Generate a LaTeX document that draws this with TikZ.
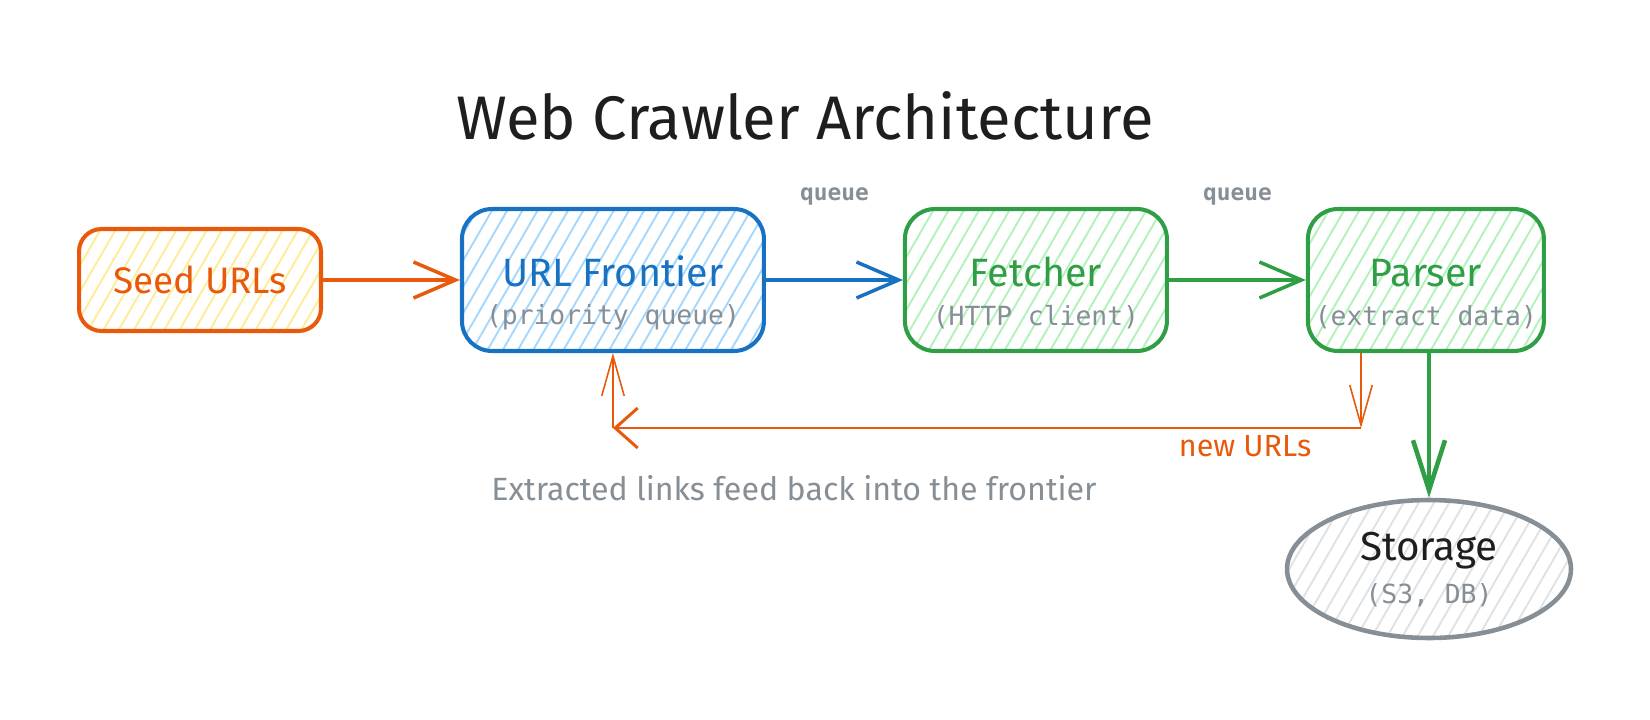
\documentclass[tikz,border=0pt]{standalone}
\usepackage{fontspec}
\setmainfont{Fira Sans}
\newfontfamily\codefont{DejaVu Sans Mono}
\usepackage{xcolor}
\usetikzlibrary{arrows.meta, positioning, patterns.meta, shapes.geometric}

\definecolor{crawlorange}{HTML}{E8590C}
\definecolor{crawlyellow}{HTML}{FFEC99}
\definecolor{crawlblue}{HTML}{1971C2}
\definecolor{crawlsky}{HTML}{A5D8FF}
\definecolor{crawlgreen}{HTML}{2F9E44}
\definecolor{crawlmint}{HTML}{B2F2BB}
\definecolor{crawlgray}{HTML}{868E96}
\definecolor{crawlmist}{HTML}{DEE2E6}
\definecolor{crawlink}{HTML}{1E1E1E}

\begin{document}
\begin{tikzpicture}[
    x=0.02cm, y=-0.02cm,
    node distance=2.74cm,
    hatch/.style={pattern={Lines[angle=60, distance=7.5pt, line width=1.1pt]}, pattern color=#1},
    seedbox/.style={rectangle, rounded corners=0.45cm, draw=crawlorange, hatch=crawlyellow, line width=2.3pt, minimum width=4.84cm, minimum height=2.04cm, text=crawlorange, font=\fontsize{21}{25}\selectfont},
    stage/.style={rectangle, rounded corners=0.6cm, line width=2.3pt, minimum height=2.84cm, font=\fontsize{22.5}{26}\selectfont, text height=0.6cm, text depth=0.36cm},
    sub/.style={text=crawlgray, font=\codefont\fontsize{15}{17}\selectfont, yshift=-0.74cm},
    tag/.style={text=crawlgray, font=\codefont\bfseries\fontsize{13}{15}\selectfont, yshift=1.68cm},
    flow/.style={-{Straight Barb[length=0.84cm, width=0.72cm]}, line width=2pt},
    back/.style={-{Straight Barb[length=0.45cm, width=0.8cm]}, line width=1.7pt, crawlorange},
    backthin/.style={-{Straight Barb[length=0.8cm, width=0.45cm]}, line width=0.9pt, crawlorange}
]
\useasboundingbox (0,0) rectangle (1650,720);

% Nodes
\node[text=crawlink, font=\fontsize{35}{42}\selectfont] (heading) at (805,116) {Web Crawler Architecture};
\node[seedbox] (seed) at (200,280) {Seed URLs};
\node[stage, right=of seed, draw=crawlblue, hatch=crawlsky, text=crawlblue, minimum width=6.04cm,
    label={[sub]center:(priority queue)}] (frontier) {URL Frontier};
\node[stage, right=of frontier, draw=crawlgreen, hatch=crawlmint, text=crawlgreen, minimum width=5.24cm,
    label={[sub]center:(HTTP client)}] (fetcher) {Fetcher};
\node[stage, right=of fetcher, draw=crawlgreen, hatch=crawlmint, text=crawlgreen, minimum width=4.72cm,
    label={[sub]center:(extract data)}] (parser) {Parser};
\node[ellipse, draw=crawlgray, hatch=crawlmist, line width=2.6pt, minimum width=5.68cm, minimum height=2.76cm,
    text=crawlink, font=\fontsize{23}{27}\selectfont, text height=0.6cm, text depth=0.96cm,
    label={[sub, yshift=0.22cm]center:(S3, DB)}] (storage) at (1429,569) {Storage};
\node[text=crawlgray, font=\fontsize{18.3}{22}\selectfont] (note) at (794,488) {Extracted links feed back into the frontier};
\coordinate (turn) at (1361,428);

% Arrows
\draw[flow, crawlorange] (seed) -- (frontier);
\draw[flow, crawlblue] (frontier) -- node[tag] {queue} (fetcher);
\draw[flow, crawlgreen] (fetcher) -- node[tag] {queue} (parser);
\draw[flow, crawlgreen, line width=2.6pt, -{Straight Barb[length=1cm, width=0.64cm]}] (parser.south -| storage.north) -- (storage.north);

% Feedback loop
\draw[backthin] (parser.south -| turn) -- (turn);
\draw[back] (turn) -- node[pos=0.155, below, text=crawlorange, font=\fontsize{17.4}{20}\selectfont] {new URLs} (turn -| frontier.south);
\draw[backthin] (turn -| frontier.south) -- (frontier.south);

\end{tikzpicture}
\end{document}
